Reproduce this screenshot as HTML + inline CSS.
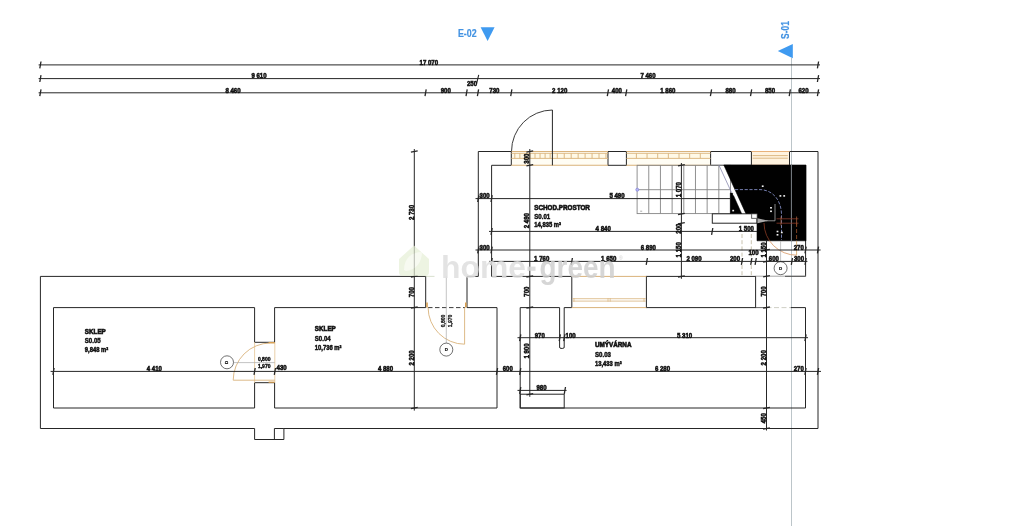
<!DOCTYPE html>
<html><head><meta charset="utf-8"><title>Floor plan</title>
<style>
html,body{margin:0;padding:0;background:#fff;}
body{width:1024px;height:526px;overflow:hidden;font-family:"Liberation Sans",sans-serif;}
svg{display:block;}
svg text{font-family:"Liberation Sans",sans-serif;}
#ink{filter:grayscale(1);}
#ink2{filter:saturate(1.02);}
</style></head><body>
<svg width="1024" height="526" viewBox="0 0 1024 526" style="opacity:0.999">
<rect width="1024" height="526" fill="#ffffff"/>
<rect x="511.30" y="151.50" width="96.70" height="13.80" fill="#fffdf4" stroke="none" stroke-width="1.0"/>
<rect x="626.40" y="151.50" width="84.20" height="13.80" fill="#fffdf4" stroke="none" stroke-width="1.0"/>
<rect x="751.40" y="151.50" width="38.10" height="13.80" fill="#fff3df" stroke="none" stroke-width="1.0"/>
<rect x="511.30" y="153.30" width="96.70" height="5.10" fill="#fff9e6" stroke="none" stroke-width="1.0"/>
<rect x="626.40" y="153.30" width="84.20" height="5.10" fill="#fff9e6" stroke="none" stroke-width="1.0"/>
<line x1="791.50" y1="58.00" x2="791.50" y2="526.00" stroke="#bcc5c9" stroke-width="1.0" />
<line x1="38.60" y1="64.90" x2="820.00" y2="64.90" stroke="#262626" stroke-width="1.0" />
<line x1="38.60" y1="78.60" x2="820.00" y2="78.60" stroke="#262626" stroke-width="1.0" />
<line x1="38.60" y1="92.80" x2="820.00" y2="92.80" stroke="#262626" stroke-width="1.0" />
<line x1="39.80" y1="68.30" x2="41.00" y2="61.50" stroke="#262626" stroke-width="1.3" />
<line x1="817.40" y1="68.30" x2="818.60" y2="61.50" stroke="#262626" stroke-width="1.3" />
<line x1="39.80" y1="82.00" x2="41.00" y2="75.20" stroke="#262626" stroke-width="1.3" />
<line x1="817.40" y1="82.00" x2="818.60" y2="75.20" stroke="#262626" stroke-width="1.3" />
<line x1="39.80" y1="96.20" x2="41.00" y2="89.40" stroke="#262626" stroke-width="1.3" />
<line x1="817.40" y1="96.20" x2="818.60" y2="89.40" stroke="#262626" stroke-width="1.3" />
<line x1="476.60" y1="83.60" x2="478.70" y2="74.80" stroke="#262626" stroke-width="1.1" />
<line x1="425.00" y1="96.20" x2="426.20" y2="89.40" stroke="#262626" stroke-width="1.3" />
<line x1="466.00" y1="96.20" x2="467.20" y2="89.40" stroke="#262626" stroke-width="1.3" />
<line x1="477.40" y1="96.20" x2="478.60" y2="89.40" stroke="#262626" stroke-width="1.3" />
<line x1="510.70" y1="96.20" x2="511.90" y2="89.40" stroke="#262626" stroke-width="1.3" />
<line x1="607.30" y1="96.20" x2="608.50" y2="89.40" stroke="#262626" stroke-width="1.3" />
<line x1="625.60" y1="96.20" x2="626.80" y2="89.40" stroke="#262626" stroke-width="1.3" />
<line x1="710.40" y1="96.20" x2="711.60" y2="89.40" stroke="#262626" stroke-width="1.3" />
<line x1="750.50" y1="96.20" x2="751.70" y2="89.40" stroke="#262626" stroke-width="1.3" />
<line x1="789.20" y1="96.20" x2="790.40" y2="89.40" stroke="#262626" stroke-width="1.3" />
<g id="ink2">
<text transform="translate(467.30,37.30) scale(0.82,1)" text-anchor="middle" font-size="10.8" font-weight="bold" fill="#4593e0" stroke="#4593e0" stroke-width="0.2">E-02</text>
<text transform="translate(789.20,30.00) rotate(-90) scale(0.82,1)" text-anchor="middle" font-size="10.3" font-weight="bold" fill="#4593e0" stroke="#4593e0" stroke-width="0.2">S-01</text>
</g>
<polygon points="480.60,27.30 494.60,27.30 487.60,41.00" fill="#3f9af0" stroke="none" stroke-width="1.0" />
<polygon points="792.80,44.00 792.80,58.20 777.80,51.10" fill="#3f9af0" stroke="none" stroke-width="1.0" />
<polyline points="511.30,151.50 478.30,151.50 478.30,276.40" fill="none" stroke="#262626" stroke-width="1.0" />
<polyline points="511.30,151.50 511.30,165.30 491.60,165.30 491.60,276.40 571.80,276.40 571.80,307.60" fill="none" stroke="#262626" stroke-width="1.0" />
<rect x="608.00" y="151.50" width="18.40" height="13.80" fill="#fff" stroke="#262626" stroke-width="1.0"/>
<rect x="710.60" y="151.50" width="40.80" height="13.80" fill="#fff" stroke="#262626" stroke-width="1.0"/>
<polyline points="789.50,165.30 789.50,151.50 818.00,151.50 818.00,428.50" fill="none" stroke="#262626" stroke-width="1.0" />
<line x1="805.60" y1="165.30" x2="805.60" y2="276.40" stroke="#262626" stroke-width="1.0" />
<line x1="514.80" y1="153.30" x2="514.80" y2="158.40" stroke="#d9b27a" stroke-width="0.9" />
<line x1="519.85" y1="153.30" x2="519.85" y2="158.40" stroke="#d9b27a" stroke-width="0.9" />
<line x1="524.90" y1="153.30" x2="524.90" y2="158.40" stroke="#d9b27a" stroke-width="0.9" />
<line x1="529.95" y1="153.30" x2="529.95" y2="158.40" stroke="#d9b27a" stroke-width="0.9" />
<line x1="535.00" y1="153.30" x2="535.00" y2="158.40" stroke="#d9b27a" stroke-width="0.9" />
<line x1="540.05" y1="153.30" x2="540.05" y2="158.40" stroke="#d9b27a" stroke-width="0.9" />
<line x1="545.10" y1="153.30" x2="545.10" y2="158.40" stroke="#d9b27a" stroke-width="0.9" />
<line x1="550.15" y1="153.30" x2="550.15" y2="158.40" stroke="#d9b27a" stroke-width="0.9" />
<line x1="557.30" y1="153.30" x2="557.30" y2="158.40" stroke="#d9b27a" stroke-width="0.9" />
<line x1="564.25" y1="153.30" x2="564.25" y2="158.40" stroke="#d9b27a" stroke-width="0.9" />
<line x1="571.20" y1="153.30" x2="571.20" y2="158.40" stroke="#d9b27a" stroke-width="0.9" />
<line x1="578.15" y1="153.30" x2="578.15" y2="158.40" stroke="#d9b27a" stroke-width="0.9" />
<line x1="585.10" y1="153.30" x2="585.10" y2="158.40" stroke="#d9b27a" stroke-width="0.9" />
<line x1="592.05" y1="153.30" x2="592.05" y2="158.40" stroke="#d9b27a" stroke-width="0.9" />
<line x1="599.00" y1="153.30" x2="599.00" y2="158.40" stroke="#d9b27a" stroke-width="0.9" />
<line x1="605.95" y1="153.30" x2="605.95" y2="158.40" stroke="#d9b27a" stroke-width="0.9" />
<line x1="636.40" y1="153.30" x2="636.40" y2="158.40" stroke="#d9b27a" stroke-width="0.9" />
<line x1="647.05" y1="153.30" x2="647.05" y2="158.40" stroke="#d9b27a" stroke-width="0.9" />
<line x1="657.70" y1="153.30" x2="657.70" y2="158.40" stroke="#d9b27a" stroke-width="0.9" />
<line x1="668.35" y1="153.30" x2="668.35" y2="158.40" stroke="#d9b27a" stroke-width="0.9" />
<line x1="679.00" y1="153.30" x2="679.00" y2="158.40" stroke="#d9b27a" stroke-width="0.9" />
<line x1="689.65" y1="153.30" x2="689.65" y2="158.40" stroke="#d9b27a" stroke-width="0.9" />
<line x1="700.30" y1="153.30" x2="700.30" y2="158.40" stroke="#d9b27a" stroke-width="0.9" />
<line x1="511.30" y1="151.50" x2="608.00" y2="151.50" stroke="#d9b27a" stroke-width="1.1" />
<line x1="511.30" y1="165.30" x2="608.00" y2="165.30" stroke="#d9b27a" stroke-width="1.1" />
<line x1="511.30" y1="153.30" x2="608.00" y2="153.30" stroke="#d9b27a" stroke-width="0.9" />
<line x1="511.30" y1="158.40" x2="608.00" y2="158.40" stroke="#d9b27a" stroke-width="0.9" />
<line x1="626.40" y1="151.50" x2="710.60" y2="151.50" stroke="#d9b27a" stroke-width="1.1" />
<line x1="626.40" y1="165.30" x2="710.60" y2="165.30" stroke="#d9b27a" stroke-width="1.1" />
<line x1="626.40" y1="153.30" x2="710.60" y2="153.30" stroke="#d9b27a" stroke-width="0.9" />
<line x1="626.40" y1="158.40" x2="710.60" y2="158.40" stroke="#d9b27a" stroke-width="0.9" />
<line x1="751.40" y1="151.50" x2="789.50" y2="151.50" stroke="#e8b27a" stroke-width="1.1" />
<line x1="752.70" y1="155.60" x2="787.80" y2="155.60" stroke="#d9b27a" stroke-width="0.9" />
<line x1="752.70" y1="158.20" x2="787.80" y2="158.20" stroke="#d9b27a" stroke-width="0.9" />
<line x1="751.40" y1="165.30" x2="789.50" y2="165.30" stroke="#e8a070" stroke-width="1.0" />
<line x1="552.40" y1="110.00" x2="552.40" y2="165.30" stroke="#262626" stroke-width="1.0" />
<path d="M511.5,151.5 A41.2,41.5 0 0 1 552.4,110.0" fill="none" stroke="#262626" stroke-width="0.9"/>
<rect x="637.10" y="165.30" width="93.40" height="48.30" fill="none" stroke="#858585" stroke-width="0.9"/>
<line x1="648.77" y1="165.30" x2="648.77" y2="213.60" stroke="#858585" stroke-width="0.9" />
<line x1="660.45" y1="165.30" x2="660.45" y2="213.60" stroke="#858585" stroke-width="0.9" />
<line x1="672.12" y1="165.30" x2="672.12" y2="213.60" stroke="#858585" stroke-width="0.9" />
<line x1="683.80" y1="165.30" x2="683.80" y2="213.60" stroke="#858585" stroke-width="0.9" />
<line x1="695.48" y1="165.30" x2="695.48" y2="213.60" stroke="#858585" stroke-width="0.9" />
<line x1="707.15" y1="165.30" x2="707.15" y2="213.60" stroke="#858585" stroke-width="0.9" />
<line x1="718.83" y1="165.30" x2="718.83" y2="213.60" stroke="#858585" stroke-width="0.9" />
<line x1="637.10" y1="189.70" x2="730.50" y2="189.70" stroke="#858585" stroke-width="0.9" />
<line x1="640.20" y1="211.20" x2="642.20" y2="211.20" stroke="#858585" stroke-width="0.7" />
<circle cx="637.3" cy="189.7" r="1.5" fill="#b9b9f2" stroke="#7f7fdd" stroke-width="0.7"/>
<rect x="712.30" y="213.80" width="44.70" height="9.40" fill="#fff" stroke="#262626" stroke-width="1.0"/>
<polygon points="723.80,165.00 806.00,165.00 806.00,240.80 757.00,240.80 757.00,218.30 751.60,218.30 751.60,213.40 745.80,213.40" fill="#000" stroke="#000" stroke-width="0.6" />
<polygon points="730.30,193.00 732.40,193.00 741.60,213.50 730.30,213.50" fill="#000" stroke="#000" stroke-width="0.5" />
<line x1="719.00" y1="165.30" x2="731.60" y2="192.60" stroke="#8a8ab0" stroke-width="0.8" />
<rect x="751.80" y="214.00" width="5.20" height="4.20" fill="#fff" stroke="#777" stroke-width="0.7"/>
<line x1="791.40" y1="165.00" x2="791.40" y2="241.00" stroke="#8d939b" stroke-width="0.9" />
<path d="M735,189.6 H760 C773,190 781,200 781.5,214 V240" fill="none" stroke="#9aa6e6" stroke-width="0.75" stroke-dasharray="3.2 1.6"/>
<rect x="761.8" y="185.4" width="1.8" height="1.6" fill="#f2f2f2"/>
<rect x="779.5" y="195.1" width="1.8" height="1.6" fill="#f2f2f2"/>
<rect x="783.3" y="195.1" width="1.8" height="1.6" fill="#f2f2f2"/>
<rect x="770.1" y="207.0" width="1.8" height="1.6" fill="#f2f2f2"/>
<rect x="770.1" y="210.5" width="1.8" height="1.6" fill="#f2f2f2"/>
<rect x="732.3" y="209.8" width="1.8" height="1.6" fill="#f2f2f2"/>
<rect x="776.6" y="230.7" width="1.8" height="1.6" fill="#f2f2f2"/>
<rect x="776.6" y="234.0" width="1.8" height="1.6" fill="#f2f2f2"/>
<rect x="780.9" y="231.7" width="1.8" height="1.6" fill="#f2f2f2"/>
<rect x="732.9" y="193.7" width="1.8" height="1.6" fill="#f2f2f2"/>
<polyline points="775.00,204.00 775.00,220.80 766.00,220.80" fill="none" stroke="#9a9a9a" stroke-width="0.9" />
<polygon points="757.40,218.30 757.40,223.20 768.50,220.80" fill="#a8a8a8" stroke="none" stroke-width="1.0" />
<line x1="776.50" y1="218.80" x2="798.50" y2="218.80" stroke="#8a3a2a" stroke-width="0.8" />
<line x1="776.50" y1="223.20" x2="798.50" y2="223.20" stroke="#8a3a2a" stroke-width="0.8" />
<line x1="781.00" y1="216.50" x2="781.00" y2="225.50" stroke="#a05a3a" stroke-width="0.8" />
<line x1="796.60" y1="216.50" x2="796.60" y2="225.50" stroke="#a05a3a" stroke-width="0.8" />
<clipPath id="cb"><rect x="750" y="160" width="60" height="80.8"/></clipPath><clipPath id="cw"><rect x="750" y="240.8" width="60" height="30"/></clipPath>
<g clip-path="url(#cb)"><path d="M764.0,223.0 A32.8,32.4 0 0 0 796.6,255.2" fill="none" stroke="#7a3520" stroke-width="0.9"/><line x1="796.6" y1="223" x2="796.6" y2="255.2" stroke="#8a4a25" stroke-width="0.9" stroke-dasharray="4 2"/></g>
<g clip-path="url(#cw)"><path d="M764.0,223.0 A32.8,32.4 0 0 0 796.6,255.2" fill="none" stroke="#dba070" stroke-width="0.9"/><line x1="796.6" y1="223" x2="796.6" y2="255.2" stroke="#dcae70" stroke-width="0.9"/></g>
<line x1="780.60" y1="241.00" x2="780.60" y2="261.40" stroke="#b5b5b5" stroke-width="0.8" />
<polyline points="425.70,276.40 40.40,276.40 40.40,428.50 254.60,428.50 254.60,439.50 283.90,439.50 283.90,428.50 818.00,428.50" fill="none" stroke="#262626" stroke-width="1.0" />
<line x1="467.00" y1="276.40" x2="478.30" y2="276.40" stroke="#262626" stroke-width="1.0" />
<line x1="425.70" y1="276.40" x2="434.50" y2="276.40" stroke="#d5dcc8" stroke-width="0.9" />
<polyline points="274.40,439.50 274.40,428.50 283.90,428.50" fill="none" stroke="#262626" stroke-width="1.0" />
<line x1="425.70" y1="276.40" x2="425.70" y2="307.60" stroke="#262626" stroke-width="1.0" />
<line x1="467.00" y1="276.40" x2="467.00" y2="307.60" stroke="#262626" stroke-width="1.0" />
<polyline points="254.60,342.30 254.60,307.60 53.50,307.60 53.50,408.00 254.60,408.00 254.60,382.70 274.60,382.70 274.60,408.00 497.00,408.00 497.00,307.60 467.00,307.60" fill="none" stroke="#262626" stroke-width="1.0" />
<polyline points="254.60,342.30 274.60,342.30 274.60,307.60 425.70,307.60" fill="none" stroke="#262626" stroke-width="1.0" />
<line x1="428.00" y1="307.60" x2="465.00" y2="307.60" stroke="#262626" stroke-width="0.9" stroke-dasharray="4.5 2.5"/>
<polyline points="520.20,307.60 520.20,408.00 805.50,408.00 805.50,307.60 790.60,307.60" fill="none" stroke="#262626" stroke-width="1.0" />
<polyline points="520.20,307.60 559.60,307.60 559.60,347.20" fill="none" stroke="#262626" stroke-width="1.0" />
<path d="M559.6,347 Q559.6,348.4 561,348.4 H562.8 Q564.2,348.4 564.2,347" fill="none" stroke="#262626" stroke-width="1"/>
<polyline points="564.20,347.20 564.20,307.60 571.80,307.60" fill="none" stroke="#262626" stroke-width="1.0" />
<rect x="520.20" y="394.20" width="44.00" height="13.80" fill="none" stroke="#262626" stroke-width="1.0"/>
<rect x="646.40" y="276.40" width="109.20" height="31.20" fill="#fff" stroke="#262626" stroke-width="1.0"/>
<line x1="755.60" y1="276.20" x2="805.60" y2="276.20" stroke="#9a9a9a" stroke-width="0.9" />
<line x1="785.00" y1="276.30" x2="805.60" y2="276.30" stroke="#444" stroke-width="0.9" />
<line x1="755.60" y1="307.60" x2="766.50" y2="307.60" stroke="#555" stroke-width="0.9" />
<line x1="766.50" y1="307.60" x2="790.60" y2="307.60" stroke="#c9c9c0" stroke-width="0.9" stroke-dasharray="5 2.5"/>
<line x1="571.80" y1="276.40" x2="646.40" y2="276.40" stroke="#d9b27a" stroke-width="1.0" />
<line x1="571.80" y1="307.60" x2="646.40" y2="307.60" stroke="#d9b27a" stroke-width="1.0" />
<line x1="572.50" y1="298.70" x2="645.80" y2="298.70" stroke="#d2a868" stroke-width="0.7" />
<line x1="572.50" y1="301.10" x2="645.80" y2="301.10" stroke="#d2a868" stroke-width="0.7" />
<line x1="574.00" y1="298.20" x2="574.00" y2="301.60" stroke="#d9b27a" stroke-width="0.7" />
<line x1="608.00" y1="298.20" x2="608.00" y2="301.60" stroke="#d9b27a" stroke-width="0.7" />
<line x1="610.20" y1="298.20" x2="610.20" y2="301.60" stroke="#d9b27a" stroke-width="0.7" />
<line x1="644.00" y1="298.20" x2="644.00" y2="301.60" stroke="#d9b27a" stroke-width="0.7" />
<line x1="742.00" y1="234.00" x2="742.00" y2="276.40" stroke="#c9c3b0" stroke-width="1.0" stroke-dasharray="4 2.2"/>
<line x1="751.30" y1="234.00" x2="751.30" y2="276.40" stroke="#c9c3b0" stroke-width="1.0" stroke-dasharray="4 2.2"/>
<line x1="254.60" y1="342.30" x2="254.60" y2="382.70" stroke="#e3c493" stroke-width="0.8" />
<line x1="274.80" y1="342.30" x2="274.80" y2="382.70" stroke="#e3c493" stroke-width="0.8" />
<line x1="233.20" y1="380.20" x2="274.80" y2="380.20" stroke="#d9b27a" stroke-width="0.9" />
<path d="M233.2,380.2 A37.3,37.2 0 0 1 270.5,343.0 H274.8" fill="none" stroke="#d9b27a" stroke-width="0.9"/>
<line x1="268.60" y1="342.60" x2="274.60" y2="342.60" stroke="#d9a050" stroke-width="1.2" />
<line x1="268.60" y1="382.20" x2="274.60" y2="382.20" stroke="#d9a050" stroke-width="1.2" />
<line x1="233.50" y1="362.60" x2="274.80" y2="362.60" stroke="#aaa" stroke-width="0.7" />
<line x1="464.60" y1="307.60" x2="464.60" y2="344.20" stroke="#d9b27a" stroke-width="0.9" />
<path d="M428.1,307.6 A36.6,36.8 0 0 0 464.6,344.2" fill="none" stroke="#d9b27a" stroke-width="0.9"/>
<line x1="427.00" y1="302.60" x2="427.00" y2="307.60" stroke="#d9a050" stroke-width="1.6" />
<line x1="465.80" y1="302.60" x2="465.80" y2="307.60" stroke="#d9a050" stroke-width="1.6" />
<line x1="446.30" y1="276.40" x2="446.30" y2="343.00" stroke="#aaa" stroke-width="0.7" />
<circle cx="227.0" cy="362.3" r="6.5" fill="#fff" stroke="#333" stroke-width="0.7"/>
<circle cx="446.3" cy="349.6" r="6.5" fill="#fff" stroke="#333" stroke-width="0.7"/>
<circle cx="780.6" cy="268.2" r="6.5" fill="#fff" stroke="#333" stroke-width="0.7"/>
<line x1="475.50" y1="198.60" x2="730.30" y2="198.60" stroke="#262626" stroke-width="1.0" />
<line x1="477.70" y1="202.00" x2="478.90" y2="195.20" stroke="#262626" stroke-width="1.3" />
<line x1="491.00" y1="202.00" x2="492.20" y2="195.20" stroke="#262626" stroke-width="1.3" />
<line x1="489.00" y1="231.40" x2="757.00" y2="231.40" stroke="#262626" stroke-width="1.0" />
<line x1="491.00" y1="234.80" x2="492.20" y2="228.00" stroke="#262626" stroke-width="1.3" />
<line x1="711.60" y1="234.80" x2="712.80" y2="228.00" stroke="#262626" stroke-width="1.3" />
<line x1="475.50" y1="250.00" x2="820.60" y2="250.00" stroke="#262626" stroke-width="1.0" />
<line x1="477.70" y1="253.40" x2="478.90" y2="246.60" stroke="#262626" stroke-width="1.3" />
<line x1="491.00" y1="253.40" x2="492.20" y2="246.60" stroke="#262626" stroke-width="1.3" />
<line x1="805.00" y1="253.40" x2="806.20" y2="246.60" stroke="#262626" stroke-width="1.3" />
<line x1="817.40" y1="253.40" x2="818.60" y2="246.60" stroke="#262626" stroke-width="1.3" />
<line x1="489.00" y1="261.40" x2="807.40" y2="261.40" stroke="#262626" stroke-width="1.0" />
<line x1="491.00" y1="264.80" x2="492.20" y2="258.00" stroke="#262626" stroke-width="1.3" />
<line x1="571.20" y1="264.80" x2="572.40" y2="258.00" stroke="#262626" stroke-width="1.3" />
<line x1="646.20" y1="264.80" x2="647.40" y2="258.00" stroke="#262626" stroke-width="1.3" />
<line x1="741.40" y1="264.80" x2="742.60" y2="258.00" stroke="#262626" stroke-width="1.3" />
<line x1="750.70" y1="264.80" x2="751.90" y2="258.00" stroke="#262626" stroke-width="1.3" />
<line x1="755.10" y1="264.80" x2="756.30" y2="258.00" stroke="#262626" stroke-width="1.3" />
<line x1="791.30" y1="264.80" x2="792.50" y2="258.00" stroke="#262626" stroke-width="1.3" />
<line x1="805.00" y1="264.80" x2="806.20" y2="258.00" stroke="#262626" stroke-width="1.3" />
<line x1="517.50" y1="337.70" x2="808.00" y2="337.70" stroke="#262626" stroke-width="1.0" />
<line x1="519.60" y1="341.10" x2="520.80" y2="334.30" stroke="#262626" stroke-width="1.3" />
<line x1="559.20" y1="341.10" x2="560.40" y2="334.30" stroke="#262626" stroke-width="1.3" />
<line x1="563.70" y1="341.10" x2="564.90" y2="334.30" stroke="#262626" stroke-width="1.3" />
<line x1="804.90" y1="341.10" x2="806.10" y2="334.30" stroke="#262626" stroke-width="1.3" />
<line x1="50.60" y1="371.40" x2="821.00" y2="371.40" stroke="#262626" stroke-width="1.0" />
<line x1="52.90" y1="374.80" x2="54.10" y2="368.00" stroke="#262626" stroke-width="1.3" />
<line x1="254.00" y1="374.80" x2="255.20" y2="368.00" stroke="#262626" stroke-width="1.3" />
<line x1="274.30" y1="374.80" x2="275.50" y2="368.00" stroke="#262626" stroke-width="1.3" />
<line x1="496.40" y1="374.80" x2="497.60" y2="368.00" stroke="#262626" stroke-width="1.3" />
<line x1="519.60" y1="374.80" x2="520.80" y2="368.00" stroke="#262626" stroke-width="1.3" />
<line x1="804.90" y1="374.80" x2="806.10" y2="368.00" stroke="#262626" stroke-width="1.3" />
<line x1="817.40" y1="374.80" x2="818.60" y2="368.00" stroke="#262626" stroke-width="1.3" />
<line x1="517.50" y1="390.40" x2="566.60" y2="390.40" stroke="#262626" stroke-width="1.0" />
<line x1="519.60" y1="393.80" x2="520.80" y2="387.00" stroke="#262626" stroke-width="1.3" />
<line x1="564.30" y1="393.80" x2="565.50" y2="387.00" stroke="#262626" stroke-width="1.3" />
<line x1="414.30" y1="149.00" x2="414.30" y2="410.60" stroke="#262626" stroke-width="1.0" />
<line x1="410.90" y1="152.10" x2="417.70" y2="150.90" stroke="#262626" stroke-width="1.3" />
<line x1="410.90" y1="277.00" x2="417.70" y2="275.80" stroke="#262626" stroke-width="1.3" />
<line x1="410.90" y1="308.20" x2="417.70" y2="307.00" stroke="#262626" stroke-width="1.3" />
<line x1="410.90" y1="408.60" x2="417.70" y2="407.40" stroke="#262626" stroke-width="1.3" />
<line x1="529.80" y1="149.00" x2="529.80" y2="396.80" stroke="#262626" stroke-width="1.0" />
<line x1="526.40" y1="152.10" x2="533.20" y2="150.90" stroke="#262626" stroke-width="1.3" />
<line x1="526.40" y1="165.90" x2="533.20" y2="164.70" stroke="#262626" stroke-width="1.3" />
<line x1="526.40" y1="277.00" x2="533.20" y2="275.80" stroke="#262626" stroke-width="1.3" />
<line x1="526.40" y1="308.20" x2="533.20" y2="307.00" stroke="#262626" stroke-width="1.3" />
<line x1="526.40" y1="394.80" x2="533.20" y2="393.60" stroke="#262626" stroke-width="1.3" />
<line x1="681.40" y1="163.00" x2="681.40" y2="278.80" stroke="#262626" stroke-width="1.0" />
<line x1="678.00" y1="165.90" x2="684.80" y2="164.70" stroke="#262626" stroke-width="1.3" />
<line x1="678.00" y1="214.60" x2="684.80" y2="213.40" stroke="#262626" stroke-width="1.3" />
<line x1="678.00" y1="223.80" x2="684.80" y2="222.60" stroke="#262626" stroke-width="1.3" />
<line x1="678.00" y1="277.00" x2="684.80" y2="275.80" stroke="#262626" stroke-width="1.3" />
<line x1="766.50" y1="240.80" x2="766.50" y2="430.50" stroke="#262626" stroke-width="1.0" />
<line x1="763.10" y1="250.50" x2="769.90" y2="249.30" stroke="#262626" stroke-width="1.3" />
<line x1="763.10" y1="262.00" x2="769.90" y2="260.80" stroke="#262626" stroke-width="1.3" />
<line x1="763.10" y1="276.90" x2="769.90" y2="275.70" stroke="#262626" stroke-width="1.3" />
<line x1="763.10" y1="308.20" x2="769.90" y2="307.00" stroke="#262626" stroke-width="1.3" />
<line x1="763.10" y1="408.60" x2="769.90" y2="407.40" stroke="#262626" stroke-width="1.3" />
<line x1="763.10" y1="429.10" x2="769.90" y2="427.90" stroke="#262626" stroke-width="1.3" />
<g id="ink">
<text transform="translate(428.80,64.70) scale(0.8,1)" text-anchor="middle" font-size="7.6" font-weight="bold" fill="#111" stroke="#111" stroke-width="0.6">17 070</text>
<text transform="translate(259.00,78.40) scale(0.8,1)" text-anchor="middle" font-size="7.6" font-weight="bold" fill="#111" stroke="#111" stroke-width="0.6">9 610</text>
<text transform="translate(648.00,78.40) scale(0.8,1)" text-anchor="middle" font-size="7.6" font-weight="bold" fill="#111" stroke="#111" stroke-width="0.6">7 460</text>
<text transform="translate(233.00,92.60) scale(0.8,1)" text-anchor="middle" font-size="7.6" font-weight="bold" fill="#111" stroke="#111" stroke-width="0.6">8 460</text>
<text transform="translate(445.80,92.60) scale(0.8,1)" text-anchor="middle" font-size="7.6" font-weight="bold" fill="#111" stroke="#111" stroke-width="0.6">900</text>
<text transform="translate(472.00,86.20) scale(0.8,1)" text-anchor="middle" font-size="7.6" font-weight="bold" fill="#111" stroke="#111" stroke-width="0.6">250</text>
<text transform="translate(494.40,92.60) scale(0.8,1)" text-anchor="middle" font-size="7.6" font-weight="bold" fill="#111" stroke="#111" stroke-width="0.6">730</text>
<text transform="translate(559.70,92.60) scale(0.8,1)" text-anchor="middle" font-size="7.6" font-weight="bold" fill="#111" stroke="#111" stroke-width="0.6">2 120</text>
<text transform="translate(616.90,92.60) scale(0.8,1)" text-anchor="middle" font-size="7.6" font-weight="bold" fill="#111" stroke="#111" stroke-width="0.6">400</text>
<text transform="translate(667.80,92.60) scale(0.8,1)" text-anchor="middle" font-size="7.6" font-weight="bold" fill="#111" stroke="#111" stroke-width="0.6">1 860</text>
<text transform="translate(730.50,92.60) scale(0.8,1)" text-anchor="middle" font-size="7.6" font-weight="bold" fill="#111" stroke="#111" stroke-width="0.6">880</text>
<text transform="translate(770.00,92.60) scale(0.8,1)" text-anchor="middle" font-size="7.6" font-weight="bold" fill="#111" stroke="#111" stroke-width="0.6">850</text>
<text transform="translate(803.50,92.60) scale(0.8,1)" text-anchor="middle" font-size="7.6" font-weight="bold" fill="#111" stroke="#111" stroke-width="0.6">620</text>
<text transform="translate(228.40,362.30) rotate(-90) scale(1,1)" text-anchor="middle" font-size="4.4" font-weight="bold" fill="#111" stroke="#111" stroke-width="0.2">D</text>
<text transform="translate(446.30,351.10) scale(1,1)" text-anchor="middle" font-size="4.4" font-weight="bold" fill="#111" stroke="#111" stroke-width="0.2">D</text>
<text transform="translate(780.60,269.70) scale(1,1)" text-anchor="middle" font-size="4.4" font-weight="bold" fill="#111" stroke="#111" stroke-width="0.2">D</text>
<text transform="translate(484.60,198.20) scale(0.8,1)" text-anchor="middle" font-size="7.6" font-weight="bold" fill="#111" stroke="#111" stroke-width="0.6">300</text>
<text transform="translate(617.00,198.40) scale(0.8,1)" text-anchor="middle" font-size="7.6" font-weight="bold" fill="#111" stroke="#111" stroke-width="0.6">5 490</text>
<text transform="translate(603.20,231.20) scale(0.8,1)" text-anchor="middle" font-size="7.6" font-weight="bold" fill="#111" stroke="#111" stroke-width="0.6">4 840</text>
<text transform="translate(746.40,231.10) scale(0.8,1)" text-anchor="middle" font-size="7.6" font-weight="bold" fill="#111" stroke="#111" stroke-width="0.6">1 500</text>
<text transform="translate(484.60,249.60) scale(0.8,1)" text-anchor="middle" font-size="7.6" font-weight="bold" fill="#111" stroke="#111" stroke-width="0.6">300</text>
<text transform="translate(648.30,249.80) scale(0.8,1)" text-anchor="middle" font-size="7.6" font-weight="bold" fill="#111" stroke="#111" stroke-width="0.6">6 890</text>
<text transform="translate(798.80,249.60) scale(0.8,1)" text-anchor="middle" font-size="7.6" font-weight="bold" fill="#111" stroke="#111" stroke-width="0.6">270</text>
<text transform="translate(541.70,261.20) scale(0.8,1)" text-anchor="middle" font-size="7.6" font-weight="bold" fill="#111" stroke="#111" stroke-width="0.6">1 760</text>
<text transform="translate(608.70,261.20) scale(0.8,1)" text-anchor="middle" font-size="7.6" font-weight="bold" fill="#111" stroke="#111" stroke-width="0.6">1 650</text>
<text transform="translate(694.00,261.20) scale(0.8,1)" text-anchor="middle" font-size="7.6" font-weight="bold" fill="#111" stroke="#111" stroke-width="0.6">2 090</text>
<text transform="translate(735.00,261.20) scale(0.8,1)" text-anchor="middle" font-size="7.6" font-weight="bold" fill="#111" stroke="#111" stroke-width="0.6">200</text>
<text transform="translate(753.50,255.20) scale(0.8,1)" text-anchor="middle" font-size="7.6" font-weight="bold" fill="#111" stroke="#111" stroke-width="0.6">100</text>
<text transform="translate(773.90,261.20) scale(0.8,1)" text-anchor="middle" font-size="7.6" font-weight="bold" fill="#111" stroke="#111" stroke-width="0.6">600</text>
<text transform="translate(799.00,261.20) scale(0.8,1)" text-anchor="middle" font-size="7.6" font-weight="bold" fill="#111" stroke="#111" stroke-width="0.6">300</text>
<text transform="translate(539.70,337.50) scale(0.8,1)" text-anchor="middle" font-size="7.6" font-weight="bold" fill="#111" stroke="#111" stroke-width="0.6">970</text>
<text transform="translate(570.60,337.50) scale(0.8,1)" text-anchor="middle" font-size="7.6" font-weight="bold" fill="#111" stroke="#111" stroke-width="0.6">100</text>
<text transform="translate(684.60,337.50) scale(0.8,1)" text-anchor="middle" font-size="7.6" font-weight="bold" fill="#111" stroke="#111" stroke-width="0.6">5 310</text>
<text transform="translate(154.30,371.20) scale(0.8,1)" text-anchor="middle" font-size="7.6" font-weight="bold" fill="#111" stroke="#111" stroke-width="0.6">4 410</text>
<text transform="translate(281.60,370.40) scale(0.8,1)" text-anchor="middle" font-size="7.6" font-weight="bold" fill="#111" stroke="#111" stroke-width="0.6">430</text>
<text transform="translate(385.50,371.20) scale(0.8,1)" text-anchor="middle" font-size="7.6" font-weight="bold" fill="#111" stroke="#111" stroke-width="0.6">4 880</text>
<text transform="translate(507.80,371.00) scale(0.8,1)" text-anchor="middle" font-size="7.6" font-weight="bold" fill="#111" stroke="#111" stroke-width="0.6">600</text>
<text transform="translate(662.50,371.20) scale(0.8,1)" text-anchor="middle" font-size="7.6" font-weight="bold" fill="#111" stroke="#111" stroke-width="0.6">6 280</text>
<text transform="translate(798.80,371.00) scale(0.8,1)" text-anchor="middle" font-size="7.6" font-weight="bold" fill="#111" stroke="#111" stroke-width="0.6">270</text>
<text transform="translate(541.50,390.20) scale(0.8,1)" text-anchor="middle" font-size="7.6" font-weight="bold" fill="#111" stroke="#111" stroke-width="0.6">980</text>
<text transform="translate(413.70,212.50) rotate(-90) scale(0.8,1)" text-anchor="middle" font-size="7.6" font-weight="bold" fill="#111" stroke="#111" stroke-width="0.6">2 730</text>
<text transform="translate(413.70,292.10) rotate(-90) scale(0.8,1)" text-anchor="middle" font-size="7.6" font-weight="bold" fill="#111" stroke="#111" stroke-width="0.6">700</text>
<text transform="translate(413.70,357.90) rotate(-90) scale(0.8,1)" text-anchor="middle" font-size="7.6" font-weight="bold" fill="#111" stroke="#111" stroke-width="0.6">2 200</text>
<text transform="translate(529.20,158.60) rotate(-90) scale(0.8,1)" text-anchor="middle" font-size="7.6" font-weight="bold" fill="#111" stroke="#111" stroke-width="0.6">300</text>
<text transform="translate(529.20,220.60) rotate(-90) scale(0.8,1)" text-anchor="middle" font-size="7.6" font-weight="bold" fill="#111" stroke="#111" stroke-width="0.6">2 490</text>
<text transform="translate(529.20,291.60) rotate(-90) scale(0.8,1)" text-anchor="middle" font-size="7.6" font-weight="bold" fill="#111" stroke="#111" stroke-width="0.6">700</text>
<text transform="translate(529.20,351.00) rotate(-90) scale(0.8,1)" text-anchor="middle" font-size="7.6" font-weight="bold" fill="#111" stroke="#111" stroke-width="0.6">1 900</text>
<text transform="translate(680.80,189.70) rotate(-90) scale(0.8,1)" text-anchor="middle" font-size="7.6" font-weight="bold" fill="#111" stroke="#111" stroke-width="0.6">1 070</text>
<text transform="translate(680.80,228.60) rotate(-90) scale(0.8,1)" text-anchor="middle" font-size="7.6" font-weight="bold" fill="#111" stroke="#111" stroke-width="0.6">200</text>
<text transform="translate(680.80,249.80) rotate(-90) scale(0.8,1)" text-anchor="middle" font-size="7.6" font-weight="bold" fill="#111" stroke="#111" stroke-width="0.6">1 150</text>
<text transform="translate(765.90,250.00) rotate(-90) scale(0.8,1)" text-anchor="middle" font-size="7.6" font-weight="bold" fill="#111" stroke="#111" stroke-width="0.6">1 150</text>
<text transform="translate(765.90,291.50) rotate(-90) scale(0.8,1)" text-anchor="middle" font-size="7.6" font-weight="bold" fill="#111" stroke="#111" stroke-width="0.6">700</text>
<text transform="translate(765.90,357.80) rotate(-90) scale(0.8,1)" text-anchor="middle" font-size="7.6" font-weight="bold" fill="#111" stroke="#111" stroke-width="0.6">2 200</text>
<text transform="translate(765.90,418.30) rotate(-90) scale(0.8,1)" text-anchor="middle" font-size="7.6" font-weight="bold" fill="#111" stroke="#111" stroke-width="0.6">450</text>
<text transform="translate(264.20,361.20) scale(0.9,1)" text-anchor="middle" font-size="5.6" font-weight="bold" fill="#111" stroke="#111" stroke-width="0.4">0,800</text>
<text transform="translate(264.20,367.90) scale(0.9,1)" text-anchor="middle" font-size="5.6" font-weight="bold" fill="#111" stroke="#111" stroke-width="0.4">1,970</text>
<text transform="translate(445.20,321.00) rotate(-90) scale(0.9,1)" text-anchor="middle" font-size="5.6" font-weight="bold" fill="#111" stroke="#111" stroke-width="0.3">0,800</text>
<text transform="translate(452.00,321.00) rotate(-90) scale(0.9,1)" text-anchor="middle" font-size="5.6" font-weight="bold" fill="#111" stroke="#111" stroke-width="0.3">1,970</text>
<text transform="translate(534.30,209.80) scale(0.93,1)" text-anchor="start" font-size="6.8" font-weight="bold" fill="#111" stroke="#111" stroke-width="0.6">SCHOD.PROSTOR</text>
<text transform="translate(534.30,218.80) scale(0.9,1)" text-anchor="start" font-size="6.8" font-weight="bold" fill="#111" stroke="#111" stroke-width="0.45">S0.01</text>
<text transform="translate(534.30,227.30) scale(0.86,1)" text-anchor="start" font-size="6.8" font-weight="bold" fill="#111" stroke="#111" stroke-width="0.5">14,835 m²</text>
<text transform="translate(84.80,334.30) scale(0.93,1)" text-anchor="start" font-size="6.8" font-weight="bold" fill="#111" stroke="#111" stroke-width="0.6">SKLEP</text>
<text transform="translate(84.80,343.30) scale(0.9,1)" text-anchor="start" font-size="6.8" font-weight="bold" fill="#111" stroke="#111" stroke-width="0.45">S0.05</text>
<text transform="translate(84.80,351.80) scale(0.86,1)" text-anchor="start" font-size="6.8" font-weight="bold" fill="#111" stroke="#111" stroke-width="0.5">9,848 m²</text>
<text transform="translate(314.80,331.40) scale(0.93,1)" text-anchor="start" font-size="6.8" font-weight="bold" fill="#111" stroke="#111" stroke-width="0.6">SKLEP</text>
<text transform="translate(314.80,340.80) scale(0.9,1)" text-anchor="start" font-size="6.8" font-weight="bold" fill="#111" stroke="#111" stroke-width="0.45">S0.04</text>
<text transform="translate(314.80,349.70) scale(0.86,1)" text-anchor="start" font-size="6.8" font-weight="bold" fill="#111" stroke="#111" stroke-width="0.5">10,736 m²</text>
<text transform="translate(595.00,347.00) scale(0.93,1)" text-anchor="start" font-size="6.8" font-weight="bold" fill="#111" stroke="#111" stroke-width="0.6">UMÝVÁRNA</text>
<text transform="translate(595.00,356.80) scale(0.9,1)" text-anchor="start" font-size="6.8" font-weight="bold" fill="#111" stroke="#111" stroke-width="0.45">S0.03</text>
<text transform="translate(595.00,366.10) scale(0.86,1)" text-anchor="start" font-size="6.8" font-weight="bold" fill="#111" stroke="#111" stroke-width="0.5">13,433 m²</text>
</g>

<g opacity="0.7">
<path d="M399,259 L414,245.5 L429,259 V272 Q429,276 425,276 H403 Q399,276 399,272 Z" fill="#e6efd6"/>
<path d="M404,270 C404,258 412,252 422,252 C422,262 416,270 406,271 Z" fill="#f4f8ec"/>
</g>
<text x="441" y="277.5" font-size="31" font-weight="bold" fill="#dfdfdf" opacity="0.86" textLength="85" lengthAdjust="spacingAndGlyphs">home</text>
<rect x="527.5" y="266.6" width="8" height="4.2" fill="#d6d6d6" opacity="0.86"/>
<text x="539.5" y="277.5" font-size="31" font-weight="bold" fill="#cfcfcf" opacity="0.84" textLength="76" lengthAdjust="spacingAndGlyphs">green</text>
<text x="619" y="260" font-size="5" fill="#d0d0d0">®</text>

</svg>
</body></html>
